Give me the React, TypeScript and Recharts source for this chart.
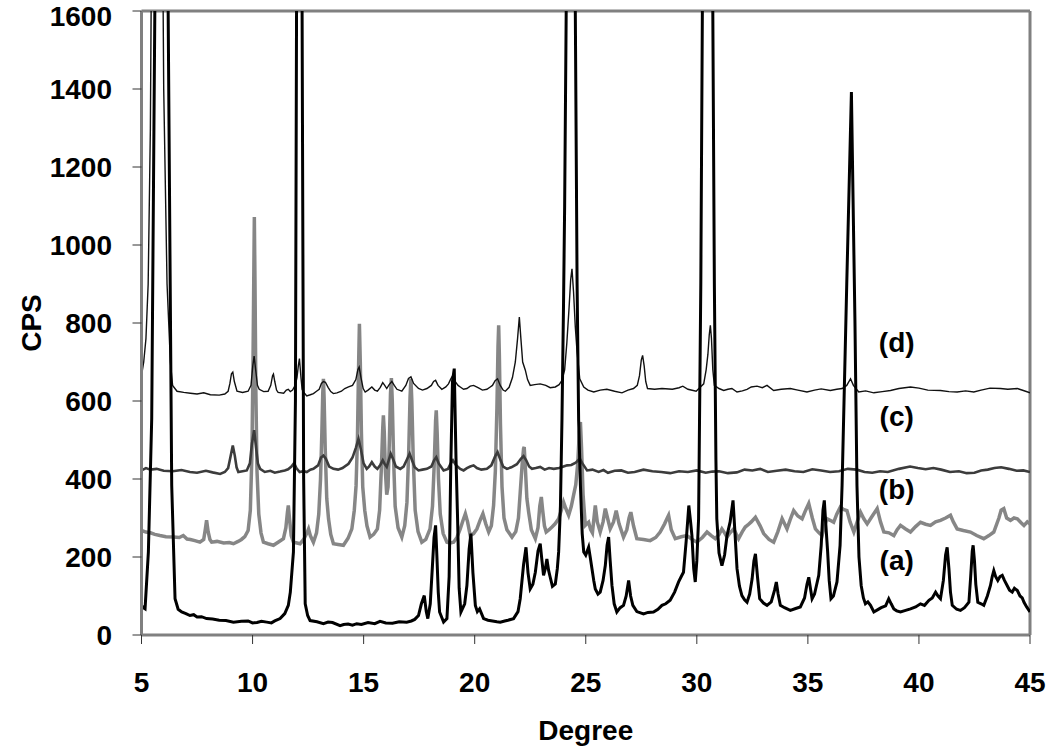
import { LineChart, Line, XAxis, YAxis, ReferenceLine, ReferenceDot, Label } from 'recharts';

// [degree, CPS]
const patternA: [number, number][] = [
  [5.0, 76], [5.08, 70], [5.16, 67], [5.31, 213], [5.46, 555], [5.6, 1600], [5.9, 9000], [6.2, 1600], [6.36, 384],
  [6.51, 93], [6.65, 66], [6.81, 59], [7.0, 55], [7.18, 50], [7.35, 52], [7.5, 46], [7.7, 47], [7.93, 42], [8.2, 41],
  [8.5, 38], [8.8, 37], [9.14, 33], [9.5, 35], [9.8, 36], [10.0, 31], [10.2, 32], [10.4, 35], [10.64, 33], [10.85, 31],
  [11.0, 36], [11.24, 42], [11.45, 55], [11.61, 76], [11.7, 110], [11.84, 213], [11.93, 600],
  [11.98, 1600], [12.1, 3500], [12.23, 1600], [12.3, 400], [12.37, 80], [12.48, 50], [12.59, 37], [12.9, 34],
  [13.19, 29], [13.4, 33], [13.6, 32], [13.94, 24], [14.1, 27], [14.3, 28], [14.5, 25], [14.69, 29], [14.9, 27],
  [15.2, 32], [15.5, 29], [15.74, 35], [16.0, 31], [16.3, 30], [16.6, 34], [16.94, 33], [17.15, 36], [17.3, 40],
  [17.47, 50], [17.6, 80], [17.73, 101], [17.82, 60], [17.89, 42], [18.0, 80], [18.1, 180], [18.17, 250], [18.24, 281],
  [18.3, 200], [18.36, 110], [18.42, 59], [18.6, 33], [18.75, 42], [18.85, 150], [18.92, 420], [19.0, 650], [19.08, 683],
  [19.16, 450], [19.23, 298], [19.3, 120], [19.38, 59], [19.55, 80], [19.65, 127], [19.75, 220], [19.83, 260],
  [19.92, 160], [20.03, 76], [20.12, 60], [20.22, 67], [20.4, 42], [20.6, 38], [20.8, 36], [21.0, 34], [21.15, 33],
  [21.35, 36], [21.5, 38], [21.75, 42], [21.95, 60], [22.05, 93], [22.2, 180], [22.31, 225], [22.4, 160], [22.5, 118],
  [22.62, 130], [22.73, 161], [22.85, 215], [22.95, 234], [23.03, 190], [23.1, 153], [23.18, 170], [23.25, 195],
  [23.33, 165], [23.4, 148], [23.5, 125], [23.63, 131], [23.72, 170], [23.78, 213], [23.86, 330], [23.93, 555],
  [24.0, 850], [24.05, 1100], [24.12, 1600], [24.33, 6000], [24.53, 1600], [24.61, 900], [24.68, 550], [24.76, 384],
  [24.84, 260], [24.91, 213], [25.0, 205], [25.13, 225], [25.2, 200], [25.28, 170], [25.36, 140], [25.43, 118],
  [25.55, 105], [25.65, 110], [25.78, 140], [25.88, 178], [25.96, 230], [26.03, 251], [26.1, 190], [26.18, 127],
  [26.28, 80], [26.4, 59], [26.55, 70], [26.7, 76], [26.82, 100], [26.93, 140], [27.02, 100], [27.12, 76],
  [27.3, 60], [27.6, 54], [27.8, 58], [28.05, 59], [28.25, 66], [28.43, 76], [28.6, 80], [28.8, 89], [29.0, 110],
  [29.18, 136], [29.3, 150], [29.4, 161], [29.52, 240], [29.64, 332], [29.72, 290], [29.78, 255], [29.86, 170],
  [29.93, 136], [30.0, 190], [30.08, 298], [30.18, 900], [30.25, 1600], [30.47, 6000], [30.72, 1600], [30.79, 900],
  [30.86, 450], [30.9, 298], [31.0, 210], [31.13, 178], [31.25, 205], [31.36, 255], [31.5, 290], [31.63, 345],
  [31.72, 260], [31.81, 170], [31.92, 125], [32.03, 101], [32.15, 90], [32.26, 84], [32.38, 105], [32.49, 144],
  [32.57, 190], [32.64, 208], [32.73, 150], [32.83, 93], [33.0, 82], [33.16, 76], [33.35, 85], [33.5, 115],
  [33.58, 136], [33.66, 105], [33.76, 76], [33.95, 70], [34.21, 63], [34.45, 68], [34.66, 72], [34.85, 95],
  [34.96, 130], [35.04, 148], [35.12, 118], [35.19, 93], [35.3, 105], [35.49, 153], [35.6, 230], [35.68, 320],
  [35.74, 345], [35.8, 290], [35.89, 213], [35.96, 140], [36.04, 93], [36.15, 100], [36.31, 136], [36.45, 230],
  [36.54, 384], [36.75, 900], [36.96, 1392], [37.12, 800], [37.21, 384], [37.3, 200], [37.4, 127], [37.5, 95],
  [37.59, 80], [37.7, 85], [37.82, 76], [37.97, 59], [38.15, 65], [38.3, 70], [38.5, 75], [38.64, 93], [38.75, 80],
  [38.87, 67], [39.0, 62], [39.17, 59], [39.4, 63], [39.62, 67], [39.85, 72], [40.07, 80], [40.25, 76], [40.45, 89],
  [40.6, 95], [40.75, 110], [40.86, 100], [40.97, 93], [41.1, 140], [41.2, 205], [41.27, 225], [41.35, 170],
  [41.42, 110], [41.5, 76], [41.7, 66], [41.87, 63], [42.05, 70], [42.25, 84], [42.33, 150], [42.4, 215], [42.44, 230],
  [42.5, 190], [42.56, 130], [42.65, 84], [42.8, 80], [42.92, 76], [43.08, 100], [43.22, 127], [43.3, 150],
  [43.37, 165], [43.45, 150], [43.55, 140], [43.65, 150], [43.75, 153], [43.85, 140], [43.97, 127], [44.08, 115],
  [44.2, 110], [44.3, 120], [44.43, 114], [44.55, 100], [44.65, 95], [44.73, 84], [44.85, 72], [45.0, 59],
];

const patternB: [number, number][] = [
  [5.0, 268], [5.2, 264], [5.4, 262], [5.6, 258], [5.83, 255], [6.1, 252], [6.43, 251], [6.7, 250], [6.88, 255],
  [7.05, 246], [7.2, 245], [7.4, 242], [7.63, 238], [7.8, 245], [7.87, 270], [7.93, 294], [8.0, 265], [8.08, 245],
  [8.16, 238], [8.4, 240], [8.7, 236], [8.95, 237], [9.14, 234], [9.35, 240], [9.5, 245], [9.65, 252], [9.8, 268],
  [9.9, 320], [9.97, 460], [10.02, 700], [10.06, 950], [10.08, 1072], [10.11, 900], [10.15, 620], [10.2, 420],
  [10.28, 310], [10.38, 262], [10.49, 238], [10.7, 234], [10.94, 230], [11.15, 238], [11.39, 247], [11.5, 275],
  [11.57, 315], [11.61, 332], [11.66, 300], [11.74, 255], [11.84, 238], [12.0, 236], [12.14, 234], [12.3, 245],
  [12.45, 262], [12.52, 272], [12.6, 255], [12.74, 238], [12.88, 262], [12.98, 310], [13.06, 400], [13.12, 520],
  [13.16, 620], [13.19, 657], [13.22, 610], [13.27, 480], [13.34, 350], [13.42, 298], [13.52, 258], [13.64, 234],
  [13.85, 232], [14.09, 230], [14.3, 248], [14.47, 272], [14.58, 320], [14.66, 383], [14.72, 500], [14.77, 680],
  [14.81, 798], [14.85, 700], [14.9, 520], [14.96, 380], [15.05, 320], [15.15, 280], [15.29, 251], [15.45, 258],
  [15.62, 272], [15.72, 320], [15.8, 430], [15.86, 530], [15.89, 563], [15.93, 520], [15.98, 420], [16.04, 360],
  [16.1, 380], [16.16, 500], [16.21, 620], [16.25, 659], [16.29, 600], [16.35, 450], [16.42, 330], [16.55, 275],
  [16.72, 251], [16.85, 280], [16.95, 340], [17.03, 470], [17.09, 610], [17.13, 657], [17.17, 600], [17.23, 460],
  [17.32, 320], [17.45, 265], [17.62, 238], [17.8, 245], [17.99, 272], [18.1, 330], [18.18, 440], [18.24, 550],
  [18.27, 576], [18.31, 520], [18.37, 400], [18.45, 310], [18.58, 260], [18.75, 238], [18.9, 236], [19.05, 238],
  [19.2, 250], [19.35, 272], [19.48, 295], [19.58, 311], [19.68, 290], [19.8, 255], [19.95, 260], [20.1, 272],
  [20.25, 295], [20.37, 311], [20.5, 285], [20.63, 264], [20.75, 280], [20.85, 332], [20.93, 420], [21.0, 580],
  [21.05, 740], [21.08, 794], [21.11, 720], [21.16, 540], [21.23, 380], [21.32, 300], [21.45, 270], [21.68, 251],
  [21.85, 265], [21.97, 300], [22.05, 366], [22.14, 440], [22.2, 478], [22.23, 482], [22.28, 430], [22.35, 350],
  [22.43, 315], [22.55, 270], [22.73, 247], [22.85, 275], [22.93, 330], [23.0, 354], [23.06, 320], [23.14, 280],
  [23.22, 264], [23.35, 270], [23.48, 277], [23.62, 285], [23.78, 298], [23.9, 320], [24.0, 341], [24.1, 325],
  [24.23, 307], [24.35, 330], [24.45, 358], [24.55, 385], [24.64, 440], [24.71, 520], [24.76, 546], [24.81, 480],
  [24.88, 360], [24.98, 281], [25.05, 285], [25.13, 289], [25.22, 270], [25.3, 262], [25.37, 300], [25.43, 332],
  [25.52, 290], [25.65, 264], [25.78, 290], [25.88, 324], [25.98, 300], [26.1, 272], [26.25, 290], [26.37, 319],
  [26.5, 285], [26.7, 251], [26.85, 270], [26.95, 300], [27.03, 315], [27.15, 280], [27.3, 247], [27.6, 245],
  [27.9, 242], [28.15, 250], [28.35, 264], [28.55, 285], [28.67, 300], [28.73, 307], [28.85, 270], [29.03, 247],
  [29.3, 252], [29.55, 255], [29.8, 245], [30.0, 238], [30.25, 250], [30.46, 264], [30.65, 255], [30.83, 247],
  [31.0, 258], [31.13, 272], [31.25, 262], [31.36, 251], [31.5, 262], [31.66, 272], [31.78, 258], [31.88, 247],
  [32.05, 265], [32.18, 277], [32.3, 282], [32.45, 290], [32.64, 302], [32.85, 280], [33.01, 260], [33.25, 245],
  [33.46, 238], [33.65, 265], [33.84, 298], [33.95, 285], [34.06, 272], [34.2, 295], [34.36, 319], [34.55, 305],
  [34.74, 298], [34.9, 320], [35.04, 337], [35.2, 300], [35.34, 272], [35.5, 262], [35.64, 255], [35.75, 280],
  [35.86, 298], [36.0, 294], [36.16, 289], [36.3, 310], [36.46, 328], [36.6, 322], [36.76, 319], [36.9, 290],
  [37.07, 264], [37.22, 290], [37.37, 315], [37.52, 298], [37.67, 285], [37.9, 305], [38.12, 324], [38.27, 290],
  [38.42, 264], [38.65, 262], [38.87, 255], [39.02, 270], [39.17, 281], [39.4, 272], [39.62, 264], [39.85, 278],
  [40.07, 289], [40.3, 284], [40.52, 281], [40.75, 290], [40.97, 294], [41.2, 300], [41.42, 307], [41.55, 290],
  [41.72, 272], [42.0, 268], [42.32, 264], [42.6, 255], [42.92, 247], [43.15, 255], [43.37, 264], [43.6, 300],
  [43.7, 320], [43.82, 324], [43.95, 300], [44.12, 294], [44.28, 300], [44.43, 298], [44.6, 288], [44.73, 281],
  [44.88, 290], [45.0, 285],
];

const patternC: [number, number][] = [
  [5.0, 422], [5.2, 428], [5.4, 424], [5.68, 426], [6.0, 421], [6.4, 420], [6.8, 423], [7.18, 418], [7.5, 416],
  [7.9, 421], [8.2, 417], [8.54, 413], [8.75, 418], [8.9, 428], [9.0, 455], [9.11, 486], [9.2, 460], [9.28, 430],
  [9.36, 418], [9.55, 420], [9.74, 422], [9.88, 440], [9.97, 490], [10.07, 525], [10.16, 480], [10.24, 440],
  [10.34, 426], [10.55, 418], [10.8, 421], [11.0, 416], [11.24, 419], [11.45, 422], [11.6, 425], [11.75, 432],
  [11.87, 441], [11.97, 428], [12.12, 418], [12.3, 420], [12.44, 418], [12.6, 424], [12.74, 426], [12.95, 435],
  [13.08, 455], [13.19, 460], [13.3, 452], [13.45, 432], [13.64, 426], [13.85, 424], [14.05, 428], [14.32, 439],
  [14.5, 455], [14.65, 480], [14.77, 503], [14.88, 475], [15.0, 440], [15.14, 426], [15.25, 432], [15.37, 443],
  [15.5, 432], [15.62, 426], [15.75, 436], [15.86, 448], [15.95, 438], [16.04, 431], [16.13, 448], [16.22, 465],
  [16.32, 452], [16.45, 432], [16.65, 426], [16.8, 432], [16.95, 450], [17.07, 465], [17.18, 448], [17.3, 430],
  [17.47, 422], [17.65, 424], [17.85, 426], [18.05, 432], [18.17, 448], [18.27, 456], [18.38, 440], [18.6, 422],
  [18.8, 426], [18.92, 440], [19.02, 448], [19.15, 436], [19.35, 426], [19.5, 422], [19.65, 428], [19.8, 432],
  [19.95, 435], [20.1, 428], [20.3, 424], [20.55, 426], [20.75, 435], [20.92, 458], [21.03, 469], [21.14, 452],
  [21.28, 432], [21.45, 426], [21.65, 430], [21.9, 438], [22.08, 452], [22.2, 459], [22.32, 448], [22.45, 432],
  [22.58, 426], [22.75, 428], [22.95, 431], [23.15, 424], [23.35, 428], [23.56, 426], [23.8, 428], [24.0, 432],
  [24.16, 435], [24.35, 436], [24.55, 442], [24.73, 452], [24.85, 440], [25.06, 422], [25.3, 424], [25.58, 418],
  [25.8, 423], [26.0, 416], [26.3, 421], [26.6, 422], [26.9, 416], [27.2, 418], [27.6, 424], [28.0, 420],
  [28.4, 418], [28.8, 415], [29.2, 420], [29.6, 418], [30.0, 422], [30.4, 416], [30.7, 419], [31.0, 420],
  [31.4, 415], [31.8, 417], [32.15, 424], [32.5, 422], [32.85, 426], [33.2, 418], [33.6, 421], [34.0, 424],
  [34.4, 420], [34.8, 418], [35.2, 425], [35.6, 422], [36.0, 418], [36.4, 420], [36.8, 426], [37.2, 424],
  [37.55, 418], [37.9, 416], [38.25, 420], [38.6, 418], [39.1, 426], [39.6, 432], [39.95, 428], [40.3, 425],
  [40.65, 428], [41.0, 424], [41.4, 418], [41.8, 420], [42.15, 415], [42.5, 416], [42.8, 422], [43.1, 424],
  [43.4, 428], [43.7, 430], [44.05, 426], [44.4, 421], [44.7, 422], [45.0, 418],
];

const patternD: [number, number][] = [
  [5.0, 665], [5.1, 700], [5.2, 760], [5.3, 900], [5.4, 1300], [5.5, 2200], [5.7, 3200], [5.9, 2200], [6.0, 1400],
  [6.15, 900], [6.3, 700], [6.4, 640], [6.6, 625], [6.9, 622], [7.2, 620], [7.5, 618], [7.8, 621], [8.1, 616],
  [8.5, 615], [8.75, 618], [8.9, 625], [8.98, 645], [9.05, 670], [9.11, 674], [9.18, 650], [9.3, 625],
  [9.55, 622], [9.8, 625], [9.93, 640], [10.01, 690], [10.07, 715], [10.14, 680], [10.22, 640], [10.3, 630],
  [10.5, 624], [10.7, 625], [10.82, 640], [10.9, 665], [10.94, 669], [11.0, 650], [11.08, 628], [11.15, 622],
  [11.4, 620], [11.52, 628], [11.61, 630], [11.7, 624], [11.8, 628], [11.92, 640], [12.0, 660], [12.06, 690],
  [12.11, 709], [12.18, 660], [12.23, 630], [12.29, 623], [12.44, 613], [12.6, 616], [12.74, 619], [12.88, 625],
  [13.0, 630], [13.1, 645], [13.19, 650], [13.28, 648], [13.4, 635], [13.52, 624], [13.64, 619], [13.8, 621],
  [14.0, 625], [14.15, 632], [14.32, 636], [14.5, 640], [14.65, 655], [14.74, 680], [14.8, 687], [14.88, 660],
  [14.98, 632], [15.07, 623], [15.2, 628], [15.37, 636], [15.5, 628], [15.62, 625], [15.75, 635], [15.86, 647],
  [15.95, 640], [16.04, 632], [16.15, 642], [16.27, 650], [16.38, 640], [16.5, 630], [16.72, 625], [16.9, 640],
  [17.02, 658], [17.13, 662], [17.25, 645], [17.47, 632], [17.65, 628], [17.85, 632], [18.05, 640], [18.15, 650],
  [18.24, 653], [18.35, 640], [18.52, 630], [18.7, 636], [18.82, 644], [18.92, 656], [19.02, 666], [19.12, 650],
  [19.25, 640], [19.35, 636], [19.5, 630], [19.65, 632], [19.8, 638], [19.95, 640], [20.15, 634], [20.35, 628],
  [20.55, 630], [20.7, 636], [20.8, 640], [20.92, 652], [21.03, 657], [21.15, 640], [21.28, 628], [21.38, 625],
  [21.55, 635], [21.7, 660], [21.83, 700], [21.93, 760], [22.01, 815], [22.08, 760], [22.16, 700], [22.28, 679],
  [22.38, 655], [22.5, 640], [22.7, 642], [22.95, 644], [23.2, 640], [23.4, 634], [23.63, 636], [23.8, 642],
  [23.93, 653], [24.05, 680], [24.15, 750], [24.25, 840], [24.32, 910], [24.38, 939], [24.45, 880], [24.53, 790],
  [24.61, 726], [24.73, 657], [24.91, 636], [25.1, 628], [25.36, 623], [25.65, 628], [25.95, 630], [26.3, 625],
  [26.63, 621], [26.9, 628], [27.15, 632], [27.32, 640], [27.42, 665], [27.5, 705], [27.56, 717], [27.63, 690],
  [27.7, 650], [27.78, 632], [28.1, 630], [28.43, 632], [28.9, 630], [29.2, 634], [29.37, 638], [29.6, 630],
  [29.97, 625], [30.15, 635], [30.31, 644], [30.42, 680], [30.5, 720], [30.56, 770], [30.61, 794], [30.66, 760],
  [30.72, 680], [30.79, 640], [31.0, 632], [31.21, 627], [31.4, 630], [31.58, 632], [31.81, 623], [32.05, 626],
  [32.26, 630], [32.45, 636], [32.71, 638], [32.95, 634], [33.16, 640], [33.46, 627], [33.8, 630], [34.21, 632],
  [34.55, 628], [34.96, 623], [35.3, 628], [35.6, 631], [36.01, 627], [36.3, 630], [36.54, 632], [36.75, 640],
  [36.92, 657], [37.05, 640], [37.29, 623], [37.6, 626], [37.97, 621], [38.35, 624], [38.72, 627], [39.1, 632],
  [39.62, 636], [40.0, 633], [40.4, 628], [40.97, 627], [41.35, 624], [41.72, 623], [42.1, 626], [42.47, 623],
  [42.8, 628], [43.2, 633], [43.67, 632], [44.0, 630], [44.43, 632], [44.7, 627], [45.0, 621],
];

const xTicks = [5, 10, 15, 20, 25, 30, 35, 40, 45];
const yTicks = [0, 200, 400, 600, 800, 1000, 1200, 1400, 1600];

const seriesLabels = [
  { text: '(d)', x: 39, y: 751 },
  { text: '(c)', x: 39, y: 562 },
  { text: '(b)', x: 39, y: 374 },
  { text: '(a)', x: 39, y: 192 },
];

const toPoints = (arr: [number, number][]) => arr.map(([x, y]) => ({ x, y }));

const FRAME = '#808080';
const tickFont = { fontSize: 28, fontWeight: 'bold', fill: '#000' };

export default function App() {
  return (
    <div style={{ position: 'absolute', left: 0, top: 0, fontFamily: "'Liberation Sans', Arial, sans-serif" }}>
      <LineChart width={1050} height={748} margin={{ top: 11, right: 20, left: 11.5, bottom: 13 }}>
        <XAxis
          type="number"
          dataKey="x"
          domain={[5, 45]}
          ticks={xTicks}
          allowDataOverflow
          axisLine={{ stroke: FRAME, strokeWidth: 3 }}
          tickLine={{ stroke: '#333', strokeWidth: 1 }}
          tickSize={9}
          tickMargin={28}
          tick={tickFont}
          height={100}
        >
          <Label
            content={() => (
              <text x={585.75} y={740} textAnchor="middle" fontSize={28} fontWeight="bold" fill="#000">
                Degree
              </text>
            )}
          />
        </XAxis>
        <YAxis
          type="number"
          domain={[0, 1600]}
          ticks={yTicks}
          allowDataOverflow
          axisLine={{ stroke: FRAME, strokeWidth: 3 }}
          tickLine={{ stroke: '#333', strokeWidth: 1 }}
          tickSize={9}
          tickMargin={20.5}
          tick={tickFont}
          width={130}
        >
          <Label
            content={() => (
              <text
                x={41}
                y={323}
                transform="rotate(-90 41 323)"
                textAnchor="middle"
                fontSize={28}
                fontWeight="bold"
                fill="#000"
              >
                CPS
              </text>
            )}
          />
        </YAxis>
        <ReferenceLine y={1600} stroke={FRAME} strokeWidth={3} />
        <ReferenceLine x={45} stroke={FRAME} strokeWidth={3} />
        <Line data={toPoints(patternB)} dataKey="y" type="linear" stroke="#868686" strokeWidth={3.5} dot={false} isAnimationActive={false} />
        <Line data={toPoints(patternC)} dataKey="y" type="linear" stroke="#3c3c3c" strokeWidth={2.6} dot={false} isAnimationActive={false} />
        <Line data={toPoints(patternD)} dataKey="y" type="linear" stroke="#111" strokeWidth={1.4} dot={false} isAnimationActive={false} />
        <Line data={toPoints(patternA)} dataKey="y" type="linear" stroke="#000" strokeWidth={3} dot={false} isAnimationActive={false} />
        {seriesLabels.map((l) => (
          <ReferenceDot
            key={l.text}
            x={l.x}
            y={l.y}
            r={0}
            fill="none"
            stroke="none"
            label={{ value: l.text, position: 'center', fontSize: 28, fontWeight: 'bold', fill: '#000' }}
          />
        ))}
      </LineChart>
    </div>
  );
}
